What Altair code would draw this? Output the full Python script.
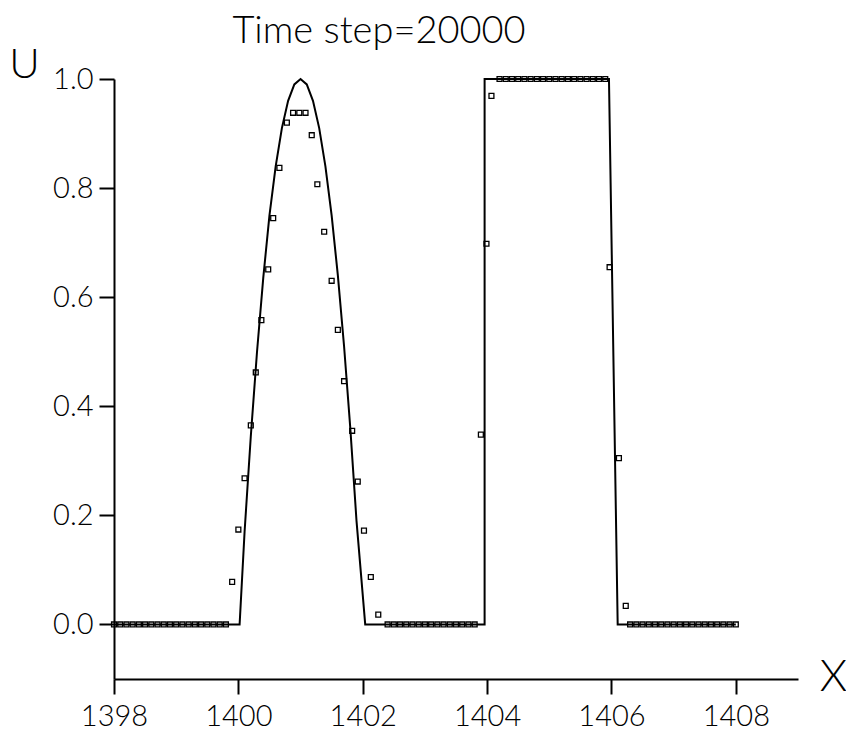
import altair as alt
import pandas as pd

# Exact solution (solid line)
line_x = [1398.0, 1400.02, 1400.1, 1400.2, 1400.3, 1400.4, 1400.5, 1400.6, 1400.7, 1400.8,
          1400.9, 1401.0, 1401.1, 1401.2, 1401.3, 1401.4, 1401.5, 1401.6, 1401.7, 1401.8,
          1401.9, 1402.04, 1403.96, 1403.96, 1405.96, 1406.1, 1408.0]
line_u = [0.0, 0.0, 0.17, 0.345, 0.50, 0.635, 0.75, 0.84, 0.91, 0.96,
          0.99, 1.0, 0.99, 0.96, 0.91, 0.84, 0.75, 0.64, 0.51, 0.36,
          0.19, 0.0, 0.0, 1.0, 1.0, 0.0, 0.0]

# Numerical solution (small open markers)
pts_x = [1398.0, 1398.1, 1398.2, 1398.3, 1398.4, 1398.5, 1398.6, 1398.7, 1398.8, 1398.9,
         1399.0, 1399.1, 1399.2, 1399.3, 1399.4, 1399.5, 1399.6, 1399.7, 1399.8,
         1399.9, 1400.0, 1400.1, 1400.2, 1400.28, 1400.37, 1400.48, 1400.56, 1400.66, 1400.78,
         1400.88, 1400.98, 1401.08, 1401.18, 1401.27, 1401.38, 1401.5, 1401.6, 1401.7, 1401.83,
         1401.92, 1402.02, 1402.13, 1402.25,
         1402.4, 1402.5, 1402.6, 1402.7, 1402.8, 1402.9, 1403.0, 1403.1, 1403.2, 1403.3,
         1403.4, 1403.5, 1403.6, 1403.7, 1403.8,
         1403.9, 1403.99, 1404.07,
         1404.2, 1404.3, 1404.4, 1404.5, 1404.6, 1404.7, 1404.8, 1404.9, 1405.0, 1405.1,
         1405.2, 1405.3, 1405.4, 1405.5, 1405.6, 1405.7, 1405.8, 1405.9,
         1405.97, 1406.12, 1406.23,
         1406.3, 1406.4, 1406.5, 1406.6, 1406.7, 1406.8, 1406.9, 1407.0, 1407.1, 1407.2,
         1407.3, 1407.4, 1407.5, 1407.6, 1407.7, 1407.8, 1407.9, 1408.0]
pts_u = [0.0, 0.0, 0.0, 0.0, 0.0, 0.0, 0.0, 0.0, 0.0, 0.0,
         0.0, 0.0, 0.0, 0.0, 0.0, 0.0, 0.0, 0.0, 0.0,
         0.078, 0.174, 0.268, 0.365, 0.462, 0.558, 0.651, 0.745, 0.837, 0.92,
         0.938, 0.938, 0.938, 0.897, 0.807, 0.72, 0.63, 0.54, 0.446, 0.355,
         0.262, 0.172, 0.087, 0.018,
         0.0, 0.0, 0.0, 0.0, 0.0, 0.0, 0.0, 0.0, 0.0, 0.0,
         0.0, 0.0, 0.0, 0.0, 0.0,
         0.348, 0.698, 0.969,
         1.0, 1.0, 1.0, 1.0, 1.0, 1.0, 1.0, 1.0, 1.0, 1.0,
         1.0, 1.0, 1.0, 1.0, 1.0, 1.0, 1.0, 1.0,
         0.655, 0.305, 0.034,
         0.0, 0.0, 0.0, 0.0, 0.0, 0.0, 0.0, 0.0, 0.0, 0.0,
         0.0, 0.0, 0.0, 0.0, 0.0, 0.0, 0.0, 0.0]

x_ticks = [1398, 1400, 1402, 1404, 1406, 1408]
y_ticks = [0.0, 0.2, 0.4, 0.6, 0.8, 1.0]

FONT = "Lato"

line_df = pd.DataFrame({"x": line_x, "u": line_u, "i": list(range(len(line_x)))})
pts_df = pd.DataFrame({"x": pts_x, "u": pts_u})

xscale = alt.Scale(domain=[1398, 1409], nice=False, zero=False)
yscale = alt.Scale(domain=[-0.1, 1.0], nice=False, zero=False)

xaxis = alt.Axis(values=x_ticks, format="d", title="X", titleAngle=0,
                 titleX=719, titleY=11, titleAlign="center", titleBaseline="alphabetic",
                 titleFontSize=44, titleFontWeight=300, titleFont=FONT, titleColor="black",
                 labelPadding=8, labelFlush=False)
yaxis = alt.Axis(values=y_ticks, format=".1f", title="U", titleAngle=0,
                 titleX=-90, titleY=-2, titleAlign="center", titleBaseline="alphabetic",
                 titleFontSize=42, titleFontWeight=300, titleFont=FONT, titleColor="black",
                 labelPadding=6, labelFlush=False)

line = alt.Chart(line_df).mark_line(color="black", strokeWidth=2, clip=False).encode(
    x=alt.X("x:Q", scale=xscale, axis=xaxis),
    y=alt.Y("u:Q", scale=yscale, axis=yaxis),
    order="i:Q",
)

pts = alt.Chart(pts_df).mark_point(shape="square", filled=False, color="black",
                                   size=24, strokeWidth=1.3, opacity=1).encode(
    x=alt.X("x:Q", scale=xscale),
    y=alt.Y("u:Q", scale=yscale),
)

chart = alt.layer(line, pts).properties(
    width=684, height=600,
    padding={"left": 114, "top": 79, "right": 48, "bottom": 58},
    autosize=alt.AutoSizeParams(type="none"),
    title=alt.TitleParams("Time step=20000", fontSize=38, font=FONT, fontWeight=300,
                          color="black", anchor="middle", dx=-77, dy=18, offset=10),
    background="white",
).configure_view(strokeWidth=0).configure_axis(
    grid=False, domainColor="black", domainWidth=2, tickColor="black", tickWidth=2,
    tickSize=15, labelFontSize=29, labelFont=FONT, labelFontWeight=300, labelColor="black",
)

chart.save("out.html", embed_options={"renderer": "svg", "actions": False})
